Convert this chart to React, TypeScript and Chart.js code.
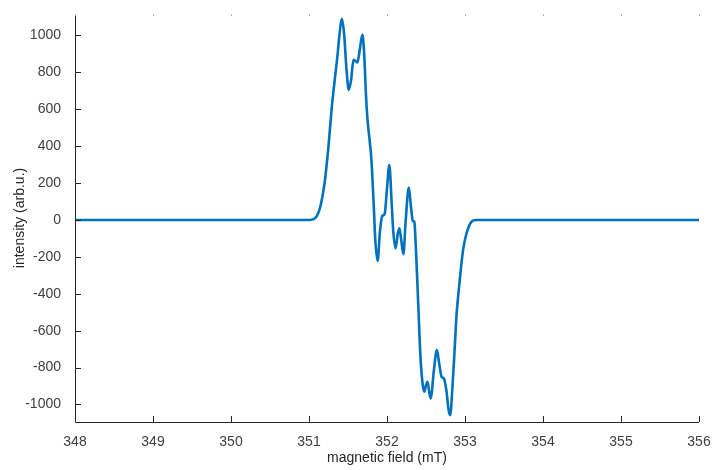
import React, { useEffect, useRef } from "react";
import { Chart, registerables } from "chart.js";

Chart.register(...registerables);

const fieldValues: number[] = [
  348, 350, 351.0, 351.05, 351.1, 351.15, 351.2, 351.25, 351.29, 351.33, 351.36, 351.39, 351.42,
  351.45, 351.48, 351.51, 351.54, 351.57, 351.6, 351.62, 351.65, 351.685, 351.71, 351.73, 351.75,
  351.78, 351.8, 351.83, 351.85, 351.88, 351.91, 351.94, 351.97, 352.0, 352.03, 352.06, 352.08,
  352.11, 352.14, 352.16, 352.18, 352.21, 352.24, 352.28, 352.31, 352.33, 352.35, 352.37, 352.4,
  352.43, 352.46, 352.48, 352.5, 352.52, 352.54, 352.56, 352.6, 352.64, 352.67, 352.7, 352.73,
  352.76, 352.79, 352.81, 352.84, 352.87, 352.89, 352.92, 352.95, 352.98, 353.02, 353.06, 353.1,
  353.15, 356,
];

const intensityValues: number[] = [
  0, 0, 0, 3, 20, 80, 200, 400, 600, 760, 870, 1000, 1090,
  1010, 820, 705, 760, 868, 860, 853, 920, 1004, 880, 680, 545,
  420, 326, 80, -110, -222, -60, 22, 33, 170, 298, 90, -60,
  -154, -70, -45, -100, -186, 0, 175, 60, -5, -10, -150, -450,
  -750, -900, -931, -895, -877, -930, -967, -820, -705, -780, -850, -859,
  -920, -1030, -1058, -900, -680, -524, -380, -253, -150, -72, -25, -4,
  0, 0,
];

const xTicks: number[] = [348, 349, 350, 351, 352, 353, 354, 355, 356];
const yTicks: number[] = [-1000, -800, -600, -400, -200, 0, 200, 400, 600, 800, 1000];

const axisPlugin = {
  id: "matlabAxes",
  afterDraw(chart: any) {
    const { ctx, chartArea } = chart;
    const xs = chart.scales.x;
    const ys = chart.scales.y;
    ctx.save();
    ctx.strokeStyle = "#262626";
    ctx.lineWidth = 1;
    ctx.beginPath();
    ctx.moveTo(chartArea.left + 0.5, chartArea.top);
    ctx.lineTo(chartArea.left + 0.5, chartArea.bottom + 0.5);
    ctx.lineTo(chartArea.right, chartArea.bottom + 0.5);
    ctx.stroke();
    ctx.beginPath();
    for (const v of xTicks) {
      const px = Math.round(xs.getPixelForValue(v)) + 0.5;
      ctx.moveTo(px, chartArea.bottom);
      ctx.lineTo(px, chartArea.bottom - 6);
    }
    for (const v of yTicks) {
      const py = Math.round(ys.getPixelForValue(v)) + 0.5;
      ctx.moveTo(chartArea.left, py);
      ctx.lineTo(chartArea.left + 6, py);
    }
    ctx.stroke();
    ctx.strokeStyle = "#b0b0b0";
    ctx.beginPath();
    for (const v of xTicks) {
      const px = Math.round(xs.getPixelForValue(v)) + 0.5;
      ctx.moveTo(px, chartArea.top);
      ctx.lineTo(px, chartArea.top + 2);
    }
    ctx.stroke();
    ctx.restore();
  },
};

export default function App() {
  const ref = useRef<HTMLCanvasElement | null>(null);
  useEffect(() => {
    if (!ref.current) return;
    const data = fieldValues.map((x, i) => ({ x, y: intensityValues[i] }));
    const font = { family: "'Liberation Sans', Arial, sans-serif", size: 14 };
    const chart = new Chart(ref.current, {
      type: "line",
      data: {
        datasets: [
          {
            data,
            borderColor: "#0072BD",
            borderWidth: 2.6,
            pointRadius: 0,
            cubicInterpolationMode: "monotone",
            fill: false,
          },
        ],
      },
      options: {
        animation: false,
        responsive: false,
        maintainAspectRatio: false,
        layout: { padding: { left: 0, right: 14, top: 14, bottom: 0 } },
        plugins: { legend: { display: false }, tooltip: { enabled: false } },
        scales: {
          x: {
            type: "linear",
            min: 348,
            max: 356,
            grid: { display: false },
            border: { display: false },
            afterBuildTicks: (s: any) => {
              s.ticks = xTicks.map((v) => ({ value: v }));
            },
            ticks: {
              color: "#404040",
              font,
              padding: 4,
              maxRotation: 0,
              autoSkip: false,
              callback: (v: any) => String(v),
            },
            title: {
              display: true,
              text: "magnetic field (mT)",
              color: "#262626",
              font,
              padding: { top: 0, bottom: 3 },
            },
            afterFit: (s: any) => {
              s.height = 48;
              s.paddingLeft = 0;
              s.paddingRight = 0;
            },
          },
          y: {
            type: "linear",
            min: -1095,
            max: 1116,
            grid: { display: false },
            border: { display: false },
            afterBuildTicks: (s: any) => {
              s.ticks = yTicks.map((v) => ({ value: v }));
            },
            ticks: {
              color: "#404040",
              font,
              padding: 6,
              autoSkip: false,
              callback: (v: any) => String(v),
            },
            title: {
              display: true,
              text: "intensity (arb.u.)",
              color: "#262626",
              font,
              padding: { top: 12, bottom: 4 },
            },
            afterFit: (s: any) => {
              s.width = 75;
              s.paddingTop = 0;
              s.paddingBottom = 0;
            },
          },
        },
      },
      plugins: [axisPlugin],
    } as any);
    return () => chart.destroy();
  }, []);
  return (
    <div style={{ position: "fixed", left: 0, top: 0, width: 713, height: 470, background: "#fff" }}>
      <canvas ref={ref} width={713} height={470} style={{ width: 713, height: 470 }} />
    </div>
  );
}
